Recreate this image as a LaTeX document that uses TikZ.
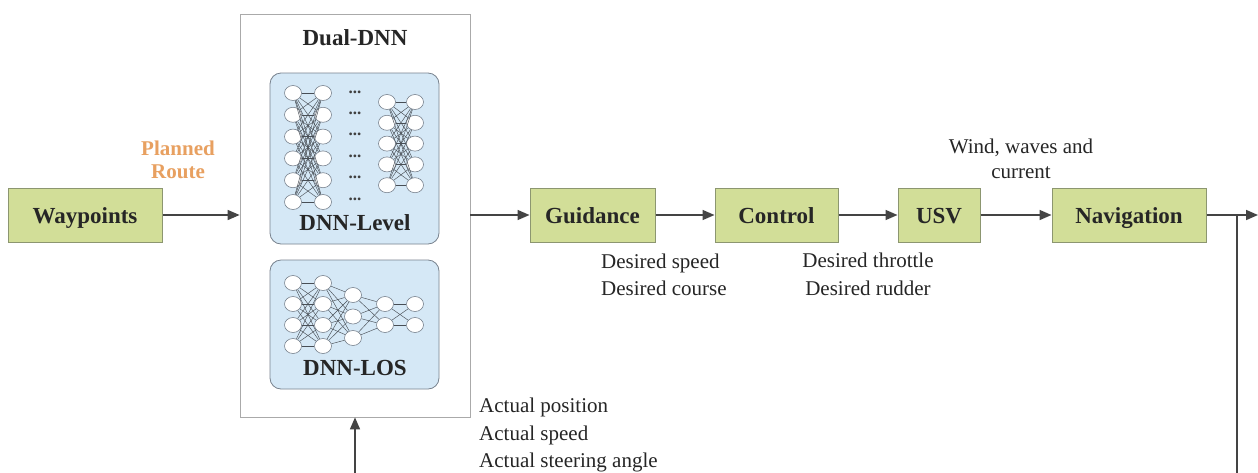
\documentclass[tikz,border=0pt]{standalone}
\usepackage{fontspec}
\setmainfont{LiberationSerif}[Extension=.ttf, UprightFont=*-Regular, BoldFont=*-Bold, ItalicFont=*-Italic, BoldItalicFont=*-BoldItalic]
\usetikzlibrary{arrows.meta,shapes.geometric}
\definecolor{boxgreen}{RGB}{210,222,152}
\definecolor{boxedge}{RGB}{140,150,112}
\definecolor{nnblue}{RGB}{213,232,246}
\definecolor{nnedge}{RGB}{120,130,142}
\definecolor{outeredge}{RGB}{170,170,170}
\definecolor{arrowc}{RGB}{68,68,68}
\definecolor{routec}{RGB}{232,160,96}
\begin{document}
\begin{tikzpicture}[x=1pt,y=-1pt,
  gbox/.style={draw=boxedge, fill=boxgreen, line width=1pt, minimum height=54pt, inner sep=0pt,
    text height=21pt, text depth=5pt,
    font=\fontsize{23}{27}\selectfont\bfseries, text=black!85},
  flow/.style={draw=arrowc, line width=1.6pt, -{Triangle[length=12pt,width=10pt]}},
  plain/.style={draw=arrowc, line width=1.6pt},
  neuron/.style={ellipse, draw=nnedge, fill=white, line width=0.6pt, minimum width=17pt,
    minimum height=15pt, inner sep=0pt},
  syn/.style={draw=nnedge!60!black, line width=0.45pt},
  nnbox/.style={draw=nnedge, fill=nnblue, line width=0.8pt, rounded corners=11pt, inner sep=0pt},
  lbl/.style={font=\fontsize{21}{25}\selectfont, inner sep=0pt, text=black!85},
  blbl/.style={font=\fontsize{23}{27}\selectfont\bfseries, inner sep=0pt, text=black!85},
  dotsn/.style={font=\fontsize{17}{17}\selectfont\bfseries, inner sep=0pt, text=black!75}]
\useasboundingbox (0,0) rectangle (1258,472);
\fill[white] (0,0) rectangle (1258,472);

% outer Dual-DNN box
\node[draw=outeredge, line width=0.8pt, fill=white, minimum width=230pt, minimum height=403pt, inner sep=0pt]
  (dual) at (355,215.5) {};
\node[blbl, anchor=base] (dualt) at (355,45) {Dual-DNN};

% inner boxes
\node[nnbox, minimum width=169pt, minimum height=171pt] (lvlbox) at (354.5,158.5) {};
\node[nnbox, minimum width=169pt, minimum height=129pt] (losbox) at (354.5,324.5) {};
\node[blbl, anchor=base] (lvlt) at (355,230) {DNN-Level};
\node[blbl, anchor=base] (lost) at (355,375) {DNN-LOS};

% DNN-Level network
\foreach \i in {0,...,5} {
  \node[neuron] (la\i) at (293,93+21.8*\i) {};
  \node[neuron] (lb\i) at (323,93+21.8*\i) {};
  \node[dotsn] (ld\i) at (355,92+21.4*\i) {...};
}
\foreach \i in {0,...,4} {
  \node[neuron] (lc\i) at (387,102+20.8*\i) {};
  \node[neuron] (le\i) at (415,102+20.8*\i) {};
}
\foreach \i in {0,...,5} \foreach \j in {0,...,5} \draw[syn] (la\i) -- (lb\j);
\foreach \i in {0,...,4} \foreach \j in {0,...,4} \draw[syn] (lc\i) -- (le\j);

% DNN-LOS network
\foreach \i in {0,...,3} {
  \node[neuron] (oa\i) at (293,283+21*\i) {};
  \node[neuron] (ob\i) at (323,283+21*\i) {};
}
\foreach \i in {0,...,2} \node[neuron] (oc\i) at (353,295+21.5*\i) {};
\foreach \i in {0,...,1} {
  \node[neuron] (od\i) at (385,304+21*\i) {};
  \node[neuron] (oe\i) at (415,304+21*\i) {};
}
\foreach \i in {0,...,3} \foreach \j in {0,...,3} \draw[syn] (oa\i) -- (ob\j);
\foreach \i in {0,...,3} \foreach \j in {0,...,2} \draw[syn] (ob\i) -- (oc\j);
\foreach \i in {0,...,2} \foreach \j in {0,...,1} \draw[syn] (oc\i) -- (od\j);
\foreach \i in {0,...,1} \foreach \j in {0,...,1} \draw[syn] (od\i) -- (oe\j);

% main flow boxes
\node[gbox, minimum width=154pt] (wp) at (85,215) {Waypoints};
\node[gbox, minimum width=125pt] (guid) at (592.5,215) {Guidance};
\node[gbox, minimum width=123pt] (ctrl) at (776.5,215) {Control};
\node[gbox, minimum width=82pt] (usv) at (939,215) {USV};
\node[gbox, minimum width=154pt] (nav) at (1129,215) {Navigation};

% labels
\node[font=\fontsize{21}{25}\selectfont\bfseries, text=routec, inner sep=0pt, anchor=base] (pl1) at (178,155) {Planned};
\node[font=\fontsize{21}{25}\selectfont\bfseries, text=routec, inner sep=0pt, anchor=base] (pl2) at (178,178) {Route};
\node[lbl, anchor=base west] (ds) at (601,268) {Desired speed};
\node[lbl, anchor=base west] (dc) at (601,295) {Desired course};
\node[lbl, anchor=base] (dt) at (868,267) {Desired throttle};
\node[lbl, anchor=base] (dr) at (868,295) {Desired rudder};
\node[lbl, anchor=base] (w1) at (1021,153) {Wind, waves and};
\node[lbl, anchor=base] (w2) at (1021,178) {current};
\node[lbl, anchor=base west] (ap) at (479,412) {Actual position};
\node[lbl, anchor=base west] (as) at (479,440) {Actual speed};
\node[lbl, anchor=base west] (aa) at (479,467) {Actual steering angle};

% connectors
\coordinate (out) at (1258,215);
\coordinate (fbtop) at (1237,215);
\coordinate (fbbot) at (1237,473);
\coordinate (fbin) at (355,473);
\draw[flow] (wp) -- (wp -| dual.west);
\draw[flow] (dual.east |- guid) -- (guid);
\draw[flow] (guid) -- (ctrl);
\draw[flow] (ctrl) -- (usv);
\draw[flow] (usv) -- (nav);
\draw[flow] (nav) -- (out);
\draw[plain] (fbtop) -- (fbbot);
\draw[flow] (fbin) -- (dual.south);
\end{tikzpicture}
\end{document}
